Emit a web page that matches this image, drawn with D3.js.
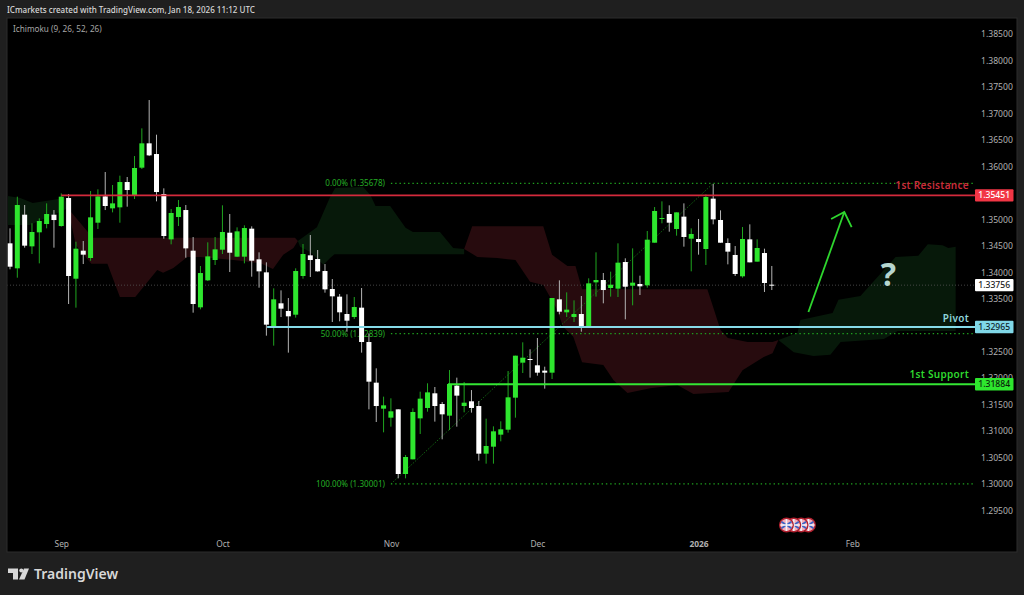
<!DOCTYPE html>
<html><head><meta charset="utf-8">
<script src="https://cdn.jsdelivr.net/npm/d3@7"></script>
<style>html,body{margin:0;padding:0;background:#1f1f1f}svg{display:block}text{font-family:"Noto Sans",sans-serif}</style>
</head><body><svg id="c" width="1024" height="595"></svg>
<script>
const opens=[1.34546,1.34074,1.35087,1.34489,1.34754,1.34911,1.35087,1.34873,1.35402,1.33878,1.34407,1.34269,1.34936,1.35433,1.35207,1.35226,1.35704,1.35446,1.35975,1.36435,1.36233,1.35478,1.34621,1.35043,1.35175,1.34407,1.33337,1.33847,1.34231,1.34426,1.34747,1.34294,1.34294,1.34823,1.34244,1.33998,1.32953,1.33413,1.33268,1.33198,1.33929,1.34319,1.34250,1.34023,1.33683,1.33539,1.33211,1.33154,1.33331,1.32682,1.31914,1.31423,1.31253,1.31410,1.30189,1.30466,1.31240,1.31436,1.31713,1.31511,1.31291,1.31858,1.31473,1.31562,1.31473,1.30573,1.30705,1.30932,1.31026,1.31631,1.32292,1.32361,1.32242,1.32141,1.32103,1.33488,1.33243,1.33154,1.33211,1.32966,1.33809,1.33853,1.33702,1.33690,1.34193,1.33746,1.33778,1.33753,1.34558,1.35006,1.35100,1.34817,1.35050,1.34634,1.34628,1.34439,1.35390,1.34987,1.34552,1.34326,1.33923,1.34621,1.34200,1.34363,1.33765];
const highs=[1.34829,1.35427,1.35270,1.34924,1.35018,1.35301,1.35175,1.35490,1.35478,1.34577,1.34590,1.35534,1.35566,1.35893,1.35648,1.35824,1.35799,1.36195,1.36718,1.37253,1.36598,1.35585,1.35194,1.35364,1.35270,1.34665,1.34118,1.34565,1.34665,1.35264,1.35100,1.34848,1.34886,1.34867,1.34376,1.34187,1.33696,1.33658,1.33513,1.34074,1.34533,1.34703,1.34420,1.34155,1.33872,1.33589,1.33583,1.33532,1.33702,1.32846,1.32185,1.31650,1.31618,1.31410,1.30548,1.31429,1.31744,1.31902,1.31832,1.31549,1.32153,1.32009,1.31927,1.31775,1.31568,1.31234,1.31089,1.31184,1.32134,1.32424,1.32676,1.32544,1.32758,1.32216,1.33513,1.33847,1.33620,1.33469,1.33551,1.33885,1.34376,1.33986,1.34011,1.34546,1.34263,1.34451,1.33935,1.34779,1.35232,1.35339,1.35264,1.35131,1.35301,1.34829,1.35006,1.35471,1.35667,1.35169,1.34640,1.34495,1.34854,1.34905,1.34621,1.34445,1.34118];
const lows=[1.34055,1.33897,1.34464,1.34344,1.34168,1.34829,1.34464,1.34861,1.33400,1.33331,1.34155,1.34218,1.34817,1.35175,1.35131,1.34936,1.35238,1.35383,1.35950,1.36195,1.35339,1.34634,1.34527,1.34873,1.34275,1.33236,1.33299,1.33834,1.34137,1.34344,1.34004,1.34288,1.34168,1.33916,1.33708,1.32802,1.32613,1.33154,1.32481,1.33142,1.33878,1.33910,1.34011,1.33614,1.33060,1.33073,1.32877,1.33117,1.32481,1.31410,1.31171,1.30976,1.31083,1.30107,1.30107,1.30466,1.30945,1.31366,1.31178,1.30844,1.31020,1.31083,1.31354,1.31348,1.30441,1.30384,1.30384,1.30806,1.30970,1.31253,1.32097,1.32009,1.32046,1.31801,1.31983,1.33205,1.33154,1.33060,1.32877,1.32966,1.33539,1.33413,1.33539,1.33532,1.33110,1.33375,1.33570,1.33709,1.34558,1.34924,1.34766,1.34691,1.34483,1.34017,1.34332,1.34137,1.34905,1.34558,1.34149,1.33929,1.33897,1.34187,1.34200,1.33627,1.33664];
const closes=[1.34105,1.35270,1.34502,1.34760,1.34968,1.35100,1.34986,1.35427,1.33929,1.34445,1.34332,1.35037,1.35433,1.35251,1.35301,1.35704,1.35553,1.35969,1.36435,1.36208,1.35515,1.34684,1.35119,1.35232,1.34451,1.33400,1.33985,1.34300,1.34432,1.34760,1.34369,1.34772,1.34835,1.34218,1.34017,1.33010,1.33488,1.33312,1.33167,1.34023,1.34344,1.34231,1.34017,1.33677,1.33545,1.33243,1.33085,1.33343,1.32682,1.31933,1.31473,1.31486,1.31373,1.30189,1.30510,1.31360,1.31612,1.31731,1.31473,1.31316,1.31889,1.31669,1.31536,1.31436,1.30573,1.30718,1.30995,1.31033,1.31637,1.32424,1.32386,1.32349,1.32103,1.32103,1.33513,1.33255,1.33293,1.33211,1.32966,1.33790,1.33853,1.33664,1.33765,1.34181,1.33727,1.33803,1.33734,1.34615,1.35157,1.35024,1.34936,1.35131,1.34666,1.34722,1.34571,1.35421,1.34999,1.34558,1.34389,1.33967,1.34628,1.34187,1.34458,1.33797,1.33753];

// Ichimoku cloud outlines: [bar index, price]
const cloudGreenA=[[-0.3,1.3544],[1.4,1.3540],[3.1,1.3531],[6.4,1.3538],[7.5,1.3540],[7.9,1.3521],[6.8,1.3514],[4.8,1.3502],[2.7,1.3489],[-0.3,1.3489]];
const cloudRedA=[[7.9,1.3521],[11.3,1.3465],[38.9,1.3465],[39.3,1.3459],[38.7,1.3446],[37.3,1.3433],[35.9,1.3406],[34.2,1.3417],[30.5,1.3423],[26,1.3429],[24.2,1.3429],[22.3,1.3408],[20.9,1.3399],[20.1,1.3404],[17.1,1.3353],[15,1.3353],[13.3,1.3416],[11.1,1.3416],[9,1.3451]];
const cloudGreenB=[[39.3,1.3459],[41.9,1.3485],[43.7,1.3542],[44.4,1.3559],[48.2,1.3561],[49.2,1.3546],[49.9,1.3525],[51.9,1.3525],[54,1.3484],[55,1.3476],[58.7,1.3476],[60.5,1.3446],[62,1.3444],[62,1.3434],[44.3,1.3434],[43.7,1.3427],[42.8,1.3414],[41,1.3438],[39.6,1.3448]];
const cloudRedB=[[62,1.3444],[63.1,1.3487],[72.8,1.3487],[74,1.3433],[76.1,1.3412],[77.2,1.3412],[78.1,1.3368],[95.2,1.3368],[96,1.3334],[97,1.3291],[98,1.3276],[100.7,1.3268],[104.1,1.3268],[104.9,1.3272],[104.1,1.3247],[102.9,1.3240],[100,1.3215],[98.1,1.3174],[93.3,1.3170],[91.1,1.3187],[87.4,1.3181],[84.3,1.3172],[82.4,1.3196],[81,1.3225],[78.1,1.3230],[76.9,1.3278],[75.5,1.3297],[74.7,1.3329],[72.8,1.3376],[71,1.3382],[69,1.3423],[66.5,1.3427],[63.8,1.3429]];
const cloudGreenC=[[104.9,1.3272],[107.5,1.3285],[107.9,1.3310],[112.3,1.3323],[113.1,1.3348],[116.1,1.3355],[120.9,1.3429],[124,1.3431],[125.3,1.3453],[127.3,1.3451],[128.1,1.3446],[129.1,1.3448],[129.1,1.3289],[121.2,1.3289],[119.3,1.3274],[113.4,1.3268],[112,1.3244],[109.7,1.3242],[107,1.3249]];

const priceTicks=[1.295,1.30,1.305,1.31,1.315,1.32,1.325,1.335,1.34,1.345,1.35,1.36,1.365,1.37,1.375,1.38,1.385];
const timeTickIdx=[7,29,52,72,94,115];
const timeTickLabels=["Sep","Oct","Nov","Dec","2026","Feb"];
const lastPrice=1.33756, resistance=1.35451, pivot=1.32965, support=1.31884;
const fibPrices=[1.35678,1.32839,1.30001];
const fibLabels=["0.00% (1.35678)","50.00% (1.32839)","100.00% (1.30001)"];
const fibStart=[52,96];
const levelStart={resistance:7,pivot:35.1,support:59.8};
const arrowShaft=[[109,1.33249],[113.9,1.35138]];
const arrowHead=[[112.1,1.35006],[113.9,1.35138],[114.9,1.34854]];
const eventIdx=[109,108,107,106];

const svg=d3.select("#c");
const W=1024,H=595,L=7,T=18,R=1017,B=552,AX=975;
const x=d3.scaleLinear().domain([0,130]).range([10,10+130*7.325]);
const y=d3.scaleLinear().domain([1.30,1.35]).range([484,219.3]);
const fmt=d3.format(".5f");

svg.append("rect").attr("width",W).attr("height",H).attr("fill","#1f1f1f");
svg.append("rect").attr("x",L).attr("y",T).attr("width",R-L).attr("height",B-T).attr("fill","#000").attr("stroke","#2c2c2c").attr("stroke-width",1);
svg.append("defs").append("clipPath").attr("id","plot").append("rect").attr("x",L+.5).attr("y",T).attr("width",AX-L).attr("height",B-T);

svg.append("text").attr("x",7).attr("y",13).attr("font-size",8.05).attr("font-weight",500).attr("fill","#d8d8d8").text("ICmarkets created with TradingView.com, Jan 18, 2026 11:12 UTC");
svg.append("text").attr("x",13).attr("y",32).attr("font-size",8.2).attr("fill","#a6a6a6").text("Ichimoku (9, 26, 52, 26)");

const plot=svg.append("g").attr("clip-path","url(#plot)");
const poly=d3.line().x(d=>x(d[0])).y(d=>y(d[1]));
[[cloudGreenA,"#07190a"],[cloudRedA,"#270b0e"],[cloudGreenB,"#07190a"],[cloudRedB,"#270b0e"],[cloudGreenC,"#07190a"]].forEach(([p,c])=>{
  plot.append("path").attr("d",poly(p)+"Z").attr("fill",c);
});

// last price line
plot.append("line").attr("x1",L).attr("x2",AX).attr("y1",y(lastPrice)).attr("y2",y(lastPrice)).attr("stroke","#565656").attr("stroke-width",.8).attr("stroke-dasharray","1 2");

// Fibonacci
plot.append("line").attr("x1",x(fibStart[0])).attr("y1",y(fibPrices[2])).attr("x2",x(fibStart[1])).attr("y2",y(fibPrices[0])).attr("stroke","#167a16").attr("stroke-width",.8).attr("stroke-dasharray","1.5 1.5");
fibPrices.forEach((p,i)=>{
  plot.append("line").attr("x1",x(fibStart[0])).attr("x2",973).attr("y1",y(p)).attr("y2",y(p)).attr("stroke","#1fa01f").attr("stroke-width",1.2).attr("stroke-dasharray","1.4 2.9");
  plot.append("text").attr("x",385).attr("y",y(p)+3).attr("text-anchor","end").attr("font-size",8.1).attr("fill","#24ad24").text(fibLabels[i]);
});

// candles
const idx=d3.range(opens.length);
const up=i=>closes[i]>=opens[i];
plot.append("g").selectAll("line").data(idx).join("line")
 .attr("x1",x).attr("x2",x).attr("y1",i=>y(highs[i])).attr("y2",i=>y(lows[i]))
 .attr("stroke",i=>up(i)?"#1fa51f":"#b4b4b4").attr("stroke-width",1);
plot.append("g").selectAll("rect").data(idx).join("rect")
 .attr("x",i=>x(i)-2.5).attr("width",5)
 .attr("y",i=>y(Math.max(opens[i],closes[i])))
 .attr("height",i=>Math.max(1,Math.abs(y(opens[i])-y(closes[i]))))
 .attr("fill",i=>up(i)?"#2ee62e":"#ffffff");

// levels
const lvl=(p,s,c,w)=>plot.append("line").attr("x1",x(s)).attr("x2",AX).attr("y1",y(p)).attr("y2",y(p)).attr("stroke",c).attr("stroke-width",w);
lvl(resistance,levelStart.resistance,"#d42a3c",1.8);
lvl(pivot,levelStart.pivot,"#86dbe9",2);
lvl(support,levelStart.support,"#34e634",2);

const lab=(t,yy,c)=>svg.append("text").attr("x",969).attr("y",yy).attr("text-anchor","end").attr("font-size",10).attr("font-weight",600).attr("letter-spacing",.3).attr("fill",c).text(t);
lab("1st Resistance",y(resistance)-6,"#c92c3a");
lab("Pivot",y(pivot)-5,"#8fd6dc");
lab("1st Support",y(support)-6,"#2fd92f");

// arrow
plot.append("path").attr("d",poly(arrowShaft)).attr("fill","none").attr("stroke","#2ed62e").attr("stroke-width",1.8);
plot.append("path").attr("d",poly(arrowHead)).attr("fill","none").attr("stroke","#2ed62e").attr("stroke-width",1.8);
svg.append("text").attr("x",888.5).attr("y",286).attr("text-anchor","middle").attr("font-size",32).attr("font-weight",700).attr("fill","#b6d6cf").text("?");

// event flags
const ev=svg.append("g").selectAll("g").data(eventIdx).join("g").attr("transform",d=>`translate(${x(d)},525)`);
ev.append("circle").attr("r",6.8).attr("fill","#f4aebb").attr("stroke","#b0202e").attr("stroke-width",1.4);
ev.append("path").attr("d","M-5,-3.2L5,3.2M-5,3.2L5,-3.2").attr("stroke","#3a63c4").attr("stroke-width",1.8);
ev.append("path").attr("d","M-6,0H6M0,-6V6").attr("stroke","#f0f4fa").attr("stroke-width",1.5);

// axes
const ax=svg.append("g").attr("transform",`translate(${AX},0)`).call(d3.axisRight(y).tickValues(priceTicks).tickFormat(fmt).tickSize(0).tickPadding(6));
ax.select(".domain").remove();
ax.selectAll("text").attr("font-size",8.6).attr("fill","#b0b0b0").attr("font-family",'"Noto Sans",sans-serif');
const tx=svg.append("g").attr("transform",`translate(0,${B-11})`).call(d3.axisBottom(x).tickValues(timeTickIdx).tickFormat((d,i)=>timeTickLabels[i]).tickSize(0).tickPadding(0));
tx.select(".domain").remove();
tx.selectAll("text").attr("font-size",8.4).attr("fill","#b0b0b0").attr("font-family",'"Noto Sans",sans-serif').attr("font-weight",(d,i)=>timeTickLabels[i]==="2026"?700:400);

// price tags
const tag=(p,bg,fg)=>{
  const g=svg.append("g").attr("transform",`translate(975,${y(p)})`);
  g.append("rect").attr("x",0).attr("y",-6.2).attr("width",38.5).attr("height",12.4).attr("rx",1).attr("fill",bg);
  g.append("text").attr("x",19.2).attr("y",3).attr("text-anchor","middle").attr("font-size",8.6).attr("font-weight",500).attr("fill",fg).text(fmt(p));
};
tag(resistance,"#f23645","#ffffff");
tag(pivot,"#80d8e8","#10242a");
tag(support,"#2ee62e","#0a240a");
tag(lastPrice,"#ffffff","#222222");

// TradingView logo
svg.append("path").attr("fill","#d8d8d8").attr("d","M8,568.5H18V579.5H13V573H8Z");
svg.append("circle").attr("cx",21.3).attr("cy",570.6).attr("r",2).attr("fill","#d8d8d8");
svg.append("path").attr("fill","#d8d8d8").attr("d","M24,568.5H29L24.5,579.5H19Z");
svg.append("text").attr("x",34).attr("y",579).attr("font-size",14).attr("font-weight",600).attr("fill","#d8d8d8").text("TradingView");
</script></body></html>
